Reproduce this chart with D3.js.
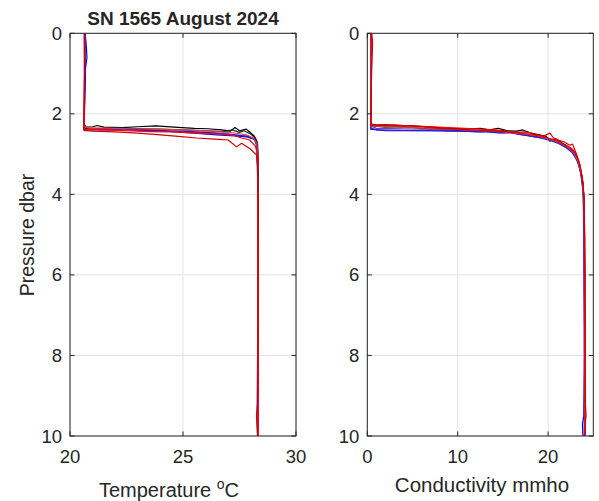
<!DOCTYPE html>
<html><head><meta charset="utf-8">
<script src="https://cdn.jsdelivr.net/npm/d3@7"></script>
<style>
body{margin:0;background:#fff}
svg{display:block}
text{font-family:"Liberation Sans",Arial,Helvetica,sans-serif;fill:#262626}
</style>
</head><body>
<svg id="chart" width="599" height="501"></svg>
<script>
// ---- tick labels / domains ----
const titleText = "SN 1565 August 2024";
const tempTicks = [20, 25, 30];
const condTicks = [0, 10, 20];
const pressureTicks = [0, 2, 4, 6, 8, 10];
const tempDomain = [20, 30];
const condDomain = [0, 25];
const pressureDomain = [0, 10];

// ---- cast colours (draw order) ----
const castColors = ["#000000", "#1a1a1a", "#7a3db8", "#0000ff", "#2020d0", "#e03c3c", "#ff0000", "#d00000"];

// ---- temperature casts: [pressure dbar, temperature C] ----
const tempK1 = [[0,20.66],[0.6,20.67],[1.2,20.66],[1.8,20.64],[2.25,20.63],[2.33,20.7],[2.32,21.0],[2.29,21.2],[2.33,21.5],[2.34,22.3],[2.32,23.0],[2.30,23.8],[2.33,24.6],[2.36,25.5],[2.37,26.1],[2.40,26.7],[2.43,27.1],[2.34,27.3],[2.42,27.5],[2.38,27.8],[2.45,27.95],[2.55,28.15],[2.7,28.28],[3.0,28.32],[4,28.33],[6,28.33],[8,28.33],[10,28.33]];
const tempK2 = [[0,20.65],[1,20.66],[2,20.64],[2.36,20.62],[2.38,21.0],[2.35,22.0],[2.37,23.0],[2.38,24.0],[2.40,25.0],[2.42,26.0],[2.44,26.8],[2.40,27.2],[2.46,27.5],[2.42,27.7],[2.50,28.0],[2.60,28.2],[2.75,28.3],[3.5,28.32],[5,28.33],[7,28.32],[10,28.33]];
const tempM1 = [[0,20.66],[1.2,20.66],[2.3,20.62],[2.42,20.63],[2.38,21.0],[2.37,22.0],[2.40,23.0],[2.42,24.0],[2.44,25.0],[2.46,26.0],[2.50,27.0],[2.55,27.7],[2.60,28.1],[2.72,28.25],[3.0,28.3],[6,28.32],[10,28.32]];
const tempB1 = [[0,20.67],[0.3,20.72],[0.6,20.75],[0.9,20.68],[1.5,20.65],[2.3,20.63],[2.40,20.65],[2.38,21.5],[2.36,22.5],[2.40,23.5],[2.44,24.5],[2.48,25.5],[2.52,26.5],[2.55,27.3],[2.57,27.8],[2.62,28.1],[2.68,28.22],[2.85,28.27],[3.2,28.3],[5,28.31],[8,28.3],[9.5,28.28],[10,28.3]];
const tempB2 = [[0,20.64],[1,20.65],[2,20.63],[2.38,20.62],[2.40,21.0],[2.40,22.2],[2.41,23.5],[2.43,24.6],[2.45,25.5],[2.48,26.5],[2.52,27.3],[2.56,27.9],[2.62,28.15],[2.80,28.28],[4,28.31],[10,28.31]];
const tempR3 = [[0,20.65],[2.3,20.63],[2.35,20.8],[2.36,22.0],[2.38,23.5],[2.40,25.0],[2.43,26.3],[2.47,27.2],[2.52,27.8],[2.60,28.1],[2.72,28.26],[3.1,28.3],[10,28.32]];
const tempR2 = [[0,20.63],[1,20.64],[2.2,20.62],[2.38,20.62],[2.40,21.5],[2.42,22.5],[2.44,23.5],[2.45,24.6],[2.48,25.6],[2.50,26.5],[2.52,27.14],[2.60,27.6],[2.65,27.95],[2.80,28.2],[2.94,28.27],[3.3,28.3],[6,28.33],[10,28.33]];
const tempR1 = [[0,20.64],[1,20.64],[2,20.62],[2.41,20.62],[2.43,21.0],[2.45,22.0],[2.48,23.0],[2.52,24.0],[2.56,24.8],[2.60,25.6],[2.63,26.4],[2.65,27.0],[2.82,27.37],[2.73,27.59],[2.86,27.95],[3.02,28.25],[3.27,28.29],[4,28.32],[7,28.32],[9.2,28.3],[9.5,28.25],[9.8,28.28],[10,28.3]];

// ---- conductivity casts: [pressure dbar, conductivity mmho] ----
const condK1 = [[0,0.4],[1,0.42],[2,0.4],[2.27,0.38],[2.30,1.5],[2.29,3],[2.30,5],[2.33,7],[2.36,9],[2.38,11],[2.36,12.5],[2.40,13.5],[2.36,14.5],[2.42,15.5],[2.43,16.5],[2.40,17.2],[2.47,18],[2.52,19],[2.56,19.8],[2.68,20.2],[2.62,20.8],[2.72,21.5],[2.78,22.0],[2.86,22.5],[3.0,23.0],[3.3,23.5],[3.7,23.85],[4.2,24.0],[6,24.05],[8,24.05],[10,24.05]];
const condK2 = [[0,0.38],[1.5,0.4],[2.3,0.38],[2.33,2],[2.32,4],[2.36,6],[2.40,9],[2.42,12],[2.44,14],[2.41,15],[2.47,16],[2.50,17.5],[2.53,18.6],[2.58,19.5],[2.64,20.5],[2.72,21.3],[2.82,22.1],[2.95,22.8],[3.15,23.3],[3.5,23.7],[4,23.95],[6,24.05],[10,24.06]];
const condM1 = [[0,0.41],[2.3,0.39],[2.36,1],[2.37,4],[2.39,8],[2.41,11],[2.43,13],[2.41,14],[2.46,15.2],[2.49,16.8],[2.54,18.2],[2.60,19.6],[2.68,20.7],[2.78,21.7],[2.90,22.5],[3.1,23.1],[3.4,23.55],[4,23.9],[10,24.05]];
const condB1 = [[0,0.42],[0.3,0.45],[0.8,0.43],[1.8,0.4],[2.38,0.38],[2.42,2],[2.42,5],[2.42,8],[2.43,10.5],[2.45,12.5],[2.43,13.5],[2.47,14.5],[2.44,15.5],[2.50,16.5],[2.53,17.5],[2.57,18.5],[2.60,19.5],[2.66,20.5],[2.73,21.3],[2.80,22],[2.90,22.6],[3.05,23.1],[3.35,23.55],[3.8,23.85],[5,24.0],[8,24.03],[9.5,23.95],[9.7,23.8],[10,23.85]];
const condB2 = [[0,0.4],[1,0.41],[2.35,0.38],[2.40,1],[2.41,4],[2.42,7],[2.43,10],[2.45,13],[2.48,15],[2.46,16],[2.52,17],[2.56,18.3],[2.61,19.4],[2.67,20.4],[2.74,21.2],[2.84,22],[2.97,22.7],[3.2,23.3],[3.6,23.75],[4.2,23.97],[7,24.04],[10,24.0]];
const condR3 = [[0,0.42],[2.3,0.4],[2.32,2],[2.34,5],[2.38,9],[2.42,12.5],[2.45,15],[2.49,17],[2.55,18.8],[2.62,20],[2.70,21],[2.80,22],[2.95,22.8],[3.2,23.35],[3.6,23.75],[4.3,24],[10,24.07]];
const condR2 = [[0,0.45],[1,0.45],[2.25,0.4],[2.28,1],[2.28,3],[2.31,6],[2.34,9],[2.37,12],[2.40,14],[2.44,15.6],[2.48,17],[2.52,18.3],[2.56,19.2],[2.62,20.3],[2.65,21],[2.76,21.6],[2.82,22.3],[2.90,22.8],[2.98,23.1],[3.3,23.55],[3.8,23.9],[5,24.05],[10,24.1]];
const condR1 = [[0,0.5],[0.2,0.58],[0.5,0.55],[1.2,0.45],[2.2,0.4],[2.28,0.4],[2.27,2],[2.29,4],[2.32,6],[2.36,8],[2.39,11],[2.41,13],[2.44,15],[2.46,16.5],[2.45,17.5],[2.50,18.5],[2.55,19.5],[2.48,20.2],[2.60,20.6],[2.66,21.2],[2.70,21.8],[2.78,22.4],[2.75,22.7],[2.92,23.0],[3.2,23.45],[3.6,23.8],[4.2,24.0],[6,24.08],[9,24.1],[9.3,24.15],[9.5,24.2],[9.7,24.1],[10,24.1]];

const tempCasts = [tempK1, tempK2, tempM1, tempB1, tempB2, tempR3, tempR2, tempR1];
const condCasts = [condK1, condK2, condM1, condB1, condB2, condR3, condR2, condR1];

// ---- drawing ----
const svg = d3.select("#chart");
const axisColor = "#262626";
const gridColor = "#e3e3e3";
const yTop = 33.3, yBottom = 436;
const y = d3.scaleLinear().domain(pressureDomain).range([yTop, yBottom]);

function panel(x0, x1, domain, xticks, casts, id) {
  const x = d3.scaleLinear().domain(domain).range([x0, x1]);
  const g = svg.append("g");
  g.selectAll(".gx").data(xticks).join("line")
    .attr("x1", d => x(d)).attr("x2", d => x(d)).attr("y1", yTop).attr("y2", yBottom)
    .attr("stroke", gridColor).attr("stroke-width", 1);
  g.selectAll(".gy").data(pressureTicks).join("line")
    .attr("x1", x0).attr("x2", x1).attr("y1", d => y(d)).attr("y2", d => y(d))
    .attr("stroke", gridColor).attr("stroke-width", 1);
  svg.append("clipPath").attr("id", id).append("rect")
    .attr("x", x0).attr("y", yTop).attr("width", x1 - x0).attr("height", yBottom - yTop);
  const line = d3.line().x(d => x(d[1])).y(d => y(d[0]));
  g.append("g").attr("clip-path", `url(#${id})`)
    .selectAll("path").data(casts).join("path")
    .attr("d", line).attr("fill", "none")
    .attr("stroke", (d, i) => castColors[i]).attr("stroke-width", 1.2)
    .attr("stroke-linejoin", "round");
  g.append("rect").attr("x", x0).attr("y", yTop).attr("width", x1 - x0).attr("height", yBottom - yTop)
    .attr("fill", "none").attr("stroke", axisColor).attr("stroke-width", 1);
  const tl = 4.5;
  g.append("g").selectAll("line").data(xticks).join("line")
    .attr("x1", d => x(d)).attr("x2", d => x(d)).attr("y1", yBottom).attr("y2", yBottom - tl).attr("stroke", axisColor);
  g.append("g").selectAll("line").data(xticks).join("line")
    .attr("x1", d => x(d)).attr("x2", d => x(d)).attr("y1", yTop).attr("y2", yTop + tl).attr("stroke", axisColor);
  g.append("g").selectAll("line").data(pressureTicks).join("line")
    .attr("x1", x0).attr("x2", x0 + tl).attr("y1", d => y(d)).attr("y2", d => y(d)).attr("stroke", axisColor);
  g.append("g").selectAll("line").data(pressureTicks).join("line")
    .attr("x1", x1).attr("x2", x1 - tl).attr("y1", d => y(d)).attr("y2", d => y(d)).attr("stroke", axisColor);
  g.append("g").selectAll("text").data(xticks).join("text")
    .attr("x", d => x(d)).attr("y", yBottom + 27).attr("text-anchor", "middle")
    .attr("font-size", 18.5).text(d => d);
  g.append("g").selectAll("text").data(pressureTicks).join("text")
    .attr("x", x0 - 8).attr("y", d => y(d) + 6.5).attr("text-anchor", "end")
    .attr("font-size", 18.5).text(d => d);
  return x;
}

panel(70, 296, tempDomain, tempTicks, tempCasts, "clipT");
panel(367.3, 593.3, condDomain, condTicks, condCasts, "clipC");

svg.append("text").attr("x", 183).attr("y", 25).attr("text-anchor", "middle")
  .attr("font-size", 19).attr("font-weight", "bold").attr("fill", "#000").text(titleText);

svg.append("text").attr("transform", "translate(34,235) rotate(-90)")
  .attr("text-anchor", "middle").attr("font-size", 19.5).text("Pressure  dbar");

const tx = svg.append("text").attr("x", 169).attr("y", 497).attr("text-anchor", "middle").attr("font-size", 20);
tx.append("tspan").text("Temperature ");
tx.append("tspan").attr("dy", -8).attr("font-size", 14).text("o");
tx.append("tspan").attr("dy", 8).text("C");

svg.append("text").attr("x", 482).attr("y", 492).attr("text-anchor", "middle")
  .attr("font-size", 20.5).text("Conductivity mmho");
</script>
</body></html>
